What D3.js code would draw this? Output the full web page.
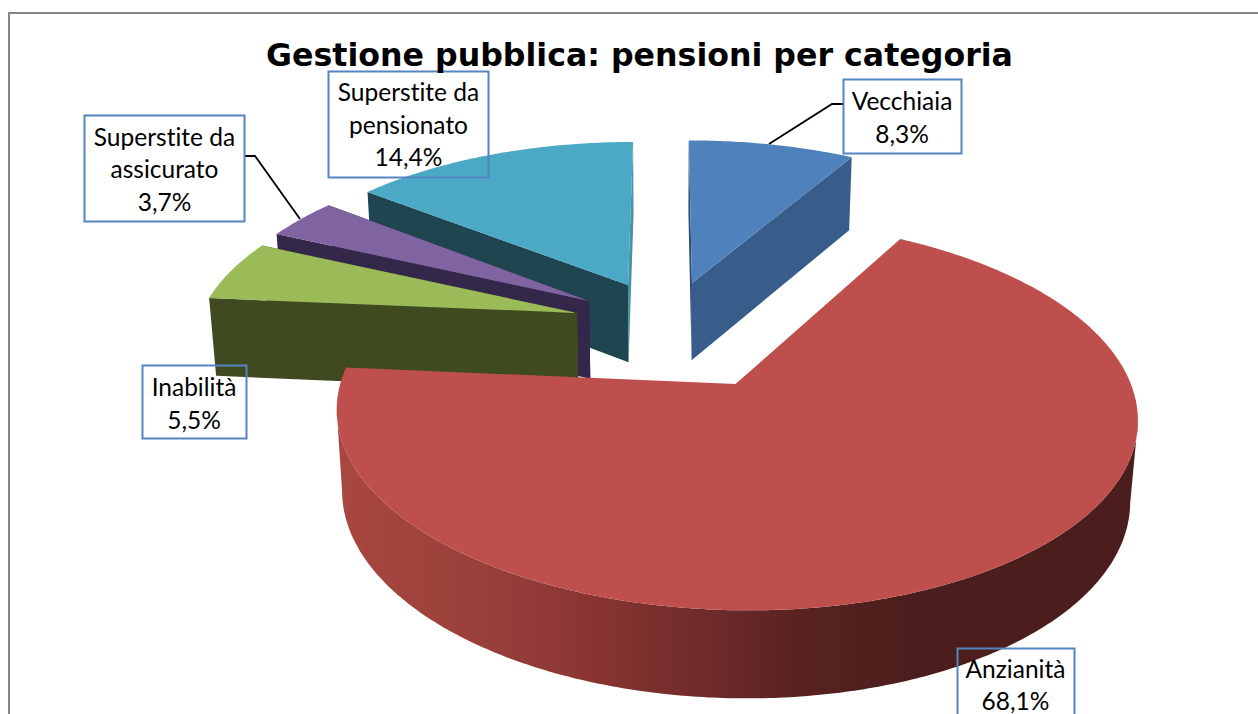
<!DOCTYPE html>
<html><head><meta charset="utf-8">
<script src="https://cdn.jsdelivr.net/npm/d3@7/dist/d3.min.js"></script>
<style>html,body{margin:0;padding:0;background:#fff;overflow:hidden}svg{display:block}text{font-variant-ligatures:none}</style>
</head><body><div id="chart"></div>
<script>
const titleText = "Gestione pubblica: pensioni per categoria";
const categories = ["Vecchiaia","Anzianità","Inabilità","Superstite da assicurato","Superstite da pensionato"];
const values = [8.3,68.1,5.5,3.7,14.4];
const labelLines = [["Vecchiaia"],["Anzianità"],["Inabilità"],["Superstite da","assicurato"],["Superstite da","pensionato"]];
const topColors = ["#4f81bd","#be4f4c","#9bbb59","#8064a2","#4ba9c5"];
const startWallColors = ["#2d4d73",null,"#404a20","#33274a","#1f4650"];
const endWallColors = ["#385d8a",null,"#404a20","#33274a","#4a92a6"];
const explodeU = [0.0691,0.1735,-0.242,-0.212,-0.1077];
const explodeV = [0.106,-0.475,-0.077,-0.005,0.093];
const radiusU = [1.02,1.001,1.011,1.012,1.012];
const radiusV = [1.03,1.002,1.015,1.03,1.03];
const drawOrder = [0,4,3,2,1];
const boxes = [
 {i:0,x:843.5,y:79.5,w:118,h:74,cx:902,base:110},
 {i:1,x:957.5,y:648.5,w:117,h:74,cx:1015.5,base:677.5},
 {i:2,x:142.5,y:365.5,w:104,h:73,cx:194,base:396},
 {i:3,x:84.5,y:115.5,w:160,h:106,cx:164.5,base:145.5},
 {i:4,x:328.5,y:71.5,w:160,h:106,cx:408.5,base:101}
];
const leaders = [
 [[843,104],[832,104],[769,144]],
 [[245,156],[255,156],[300,219]]
];
const W=1258,H=714;
const vx=667,Yh=-811,a=0.3305,p=9e-4,q=1.33e-4;
const project=(u,v)=>{const d=p+q*v;return [vx+a*u/d,Yh+1/d];};
const drop=([X,Y])=>{const T=73+0.033*(Y-155);return [X+(vx-X)*T/(5400-Y),Y+T];};

const svg=d3.select("#chart").append("svg").attr("width",W).attr("height",H);
svg.append("rect").attr("width",W).attr("height",H).attr("fill","#fff");
svg.append("rect").attr("x",9).attr("y",13).attr("width",W+20).attr("height",H+20)
  .attr("fill","#fff").attr("stroke","#868686").attr("stroke-width",2);

const grad=svg.append("defs").append("linearGradient").attr("id","wallGrad")
  .attr("gradientUnits","userSpaceOnUse").attr("x1",340).attr("x2",910).attr("y1",0).attr("y2",0);
[[0,"#a8473f"],[0.28,"#973e3a"],[0.47,"#863330"],[0.66,"#6c2a29"],[0.8,"#59231f"],[1,"#4b1e1d"]]
  .forEach(([o,c])=>grad.append("stop").attr("offset",o).attr("stop-color",c));

const pie=d3.pie().sort(null).value(d=>d);
const arcs=pie(values);
const line=d3.line();
const g=svg.append("g");

drawOrder.forEach(i=>{
  const s=arcs[i],u0=explodeU[i],v0=explodeV[i];
  const n=Math.max(8,Math.ceil((s.endAngle-s.startAngle)*90));
  const thetas=d3.range(n+1).map(k=>s.startAngle+(s.endAngle-s.startAngle)*k/n);
  const pt=t=>project(u0+radiusU[i]*Math.sin(t),v0+radiusV[i]*Math.cos(t));
  const apex=project(u0,v0);
  const rim=thetas.map(pt);
  const wall=(A,B)=>line([A,B,drop(B),drop(A)])+"Z";
  if(startWallColors[i]){
    const walls=[[rim[0],startWallColors[i]],[rim[n],endWallColors[i]]];
    if(i===4) walls.reverse();
    walls.forEach(([R,c])=>g.append("path").attr("d",wall(apex,R)).attr("fill",c));
  } else {
    let vis=[];
    rim.forEach((P,k)=>{ if(k>0&&P[0]<rim[k-1][0]) { if(!vis.length) vis.push(rim[k-1]); vis.push(P);} });
    const band=vis.concat(vis.map(drop).reverse());
    g.append("path").attr("d",line(band)+"Z").attr("fill","url(#wallGrad)");
  }
  g.append("path").attr("d",line([apex,...rim])+"Z").attr("fill",topColors[i]);
});

leaders.forEach(l=>svg.append("path").attr("d",line(l)).attr("fill","none").attr("stroke","#000").attr("stroke-width",1.8));

const fmt=d3.formatLocale({decimal:",",thousands:".",grouping:[3],currency:["","€"]}).format(".1f");
boxes.forEach(b=>{
  svg.append("rect").attr("x",b.x).attr("y",b.y).attr("width",b.w).attr("height",b.h)
    .attr("fill","none").attr("stroke","#5585c0").attr("stroke-width",2);
  const lines=[...labelLines[b.i],fmt(values[b.i])+"%"];
  lines.forEach((t,k)=>svg.append("text").attr("x",b.cx).attr("y",b.base+k*32.5)
    .attr("font-family","Lato, 'Open Sans', sans-serif").attr("font-size",24.5).attr("text-anchor","middle").attr("fill","#000").text(t));
});
svg.append("text").attr("x",639.5).attr("y",66).attr("text-anchor","middle")
  .attr("font-family","'DejaVu Sans', Verdana, sans-serif").attr("font-weight","bold").attr("font-size",31.65).attr("fill","#000").text(titleText);
</script></body></html>
